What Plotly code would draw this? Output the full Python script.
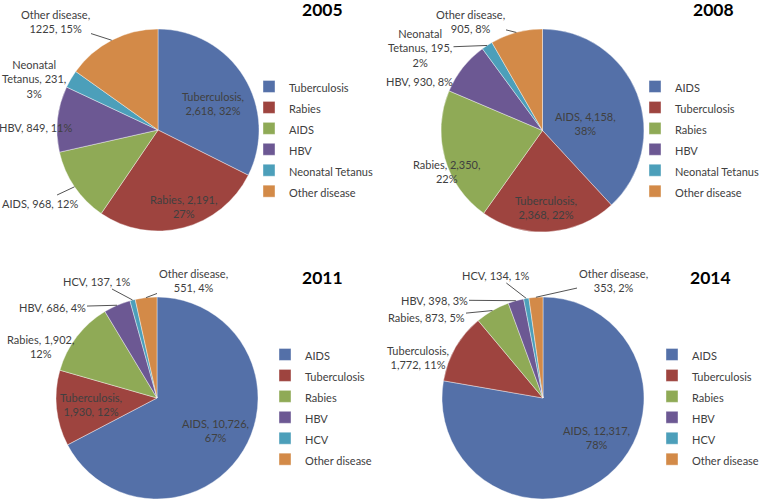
import math
import plotly.graph_objects as go

years = ["2005", "2008", "2011", "2014"]

labels_2005 = ["Tuberculosis", "Rabies", "AIDS", "HBV", "Neonatal Tetanus", "Other disease"]
values_2005 = [2618, 2191, 968, 849, 231, 1225]
pct_2005 = ["32%", "27%", "12%", "11%", "3%", "15%"]

labels_2008 = ["AIDS", "Tuberculosis", "Rabies", "HBV", "Neonatal Tetanus", "Other disease"]
values_2008 = [4158, 2368, 2350, 930, 195, 905]
pct_2008 = ["38%", "22%", "22%", "8%", "2%", "8%"]

labels_2011 = ["AIDS", "Tuberculosis", "Rabies", "HBV", "HCV", "Other disease"]
values_2011 = [10726, 1930, 1902, 686, 137, 551]
pct_2011 = ["67%", "12%", "12%", "4%", "1%", "4%"]

labels_2014 = ["AIDS", "Tuberculosis", "Rabies", "HBV", "HCV", "Other disease"]
values_2014 = [12317, 1772, 873, 398, 134, 353]
pct_2014 = ["78%", "11%", "5%", "3%", "1%", "2%"]

# data-label texts as wrapped in the reference
label_text_2005 = ["Tuberculosis,<br>2,618, 32%", "Rabies, 2,191,<br>27%", "AIDS, 968, 12%",
                   "HBV, 849, 11%", "Neonatal<br>Tetanus, 231,<br>3%", "Other disease,<br>1225, 15%"]
label_text_2008 = ["AIDS, 4,158,<br>38%", "Tuberculosis,<br>2,368, 22%", "Rabies, 2,350,<br>22%",
                   "HBV, 930, 8%", "Neonatal<br>Tetanus, 195,<br>2%", "Other disease,<br>905, 8%"]
label_text_2011 = ["AIDS, 10,726,<br>67%", "Tuberculosis,<br>1,930, 12%", "Rabies, 1,902,<br>12%",
                   "HBV, 686, 4%", "HCV, 137, 1%", "Other disease,<br>551, 4%"]
label_text_2014 = ["AIDS, 12,317,<br>78%", "Tuberculosis,<br>1,772, 11%", "Rabies, 873, 5%",
                   "HBV, 398, 3%", "HCV, 134, 1%", "Other disease,<br>353, 2%"]

colors = ["#5470A8", "#9E443F", "#8FAA56", "#6C5893", "#4C9FBA", "#D38A48"]

datasets = [
    (labels_2005, values_2005, label_text_2005),
    (labels_2008, values_2008, label_text_2008),
    (labels_2011, values_2011, label_text_2011),
    (labels_2014, values_2014, label_text_2014),
]

W, H = 762, 501
# pie center and radius (px)
pies = [(158, 130, 101), (542.5, 130.5, 101.5), (157, 398, 101), (543, 398, 101)]
# label text centres (px) and whether a leader line is drawn
label_layout = [
    [(213, 103, False), (183, 206, False), (40, 203, True), (36, 127, False), (34, 79, False), (55, 22, True)],
    [(585, 124, False), (546, 207, False), (446, 171, False), (419, 81, False), (420, 48, True), (470, 21, True)],
    [(215, 430, False), (91, 404, False), (40, 346, False), (52, 307, True), (97, 281, True), (193, 280, True)],
    [(596, 437, False), (418, 357, False), (426, 317, True), (434, 300, True), (496, 275, True), (613, 280, True)],
]
legend_pos = [(249, 71), (635, 71), (265, 339), (652, 339)]
title_pos = [(322, 9), (713, 9), (322, 277), (710, 277)]

font_family = "Lato, sans-serif"
text_color = "#404040"
legend_text_px = 11

fig = go.Figure()
legend_names = ["legend", "legend2", "legend3", "legend4"]
annotations = []
for i, (labs, vals, texts) in enumerate(datasets):
    cx, cy, r = pies[i]
    # a per-pie style string keeps each pie's legend entries separate
    style = f"font-size:{legend_text_px}px" + ";" * (i + 1)
    uniq_labels = [f'<span style="{style}">{lab}</span>' for lab in labs]
    fig.add_trace(go.Pie(
        labels=uniq_labels,
        values=vals,
        textinfo="none",
        sort=False,
        direction="clockwise",
        rotation=0,
        automargin=False,
        marker=dict(colors=colors, line=dict(color="white", width=0.4)),
        domain=dict(x=[(cx - r) / W, (cx + r) / W], y=[1 - (cy + r) / H, 1 - (cy - r) / H]),
        legend=legend_names[i],
        customdata=labs,
        hovertemplate="%{customdata}: %{value:,} (%{percent})<extra></extra>",
    ))
    total = float(sum(vals))
    cum = 0.0
    for j, v in enumerate(vals):
        mid = 2 * math.pi * (cum + v / 2.0) / total
        cum += v
        tx = cx + r * math.sin(mid)
        ty = cy - r * math.cos(mid)
        lx, ly, line = label_layout[i][j]
        annotations.append(dict(
            text=texts[j], x=tx / W, y=1 - ty / H, xref="paper", yref="paper",
            ax=lx - tx, ay=ly - ty, axref="pixel", ayref="pixel",
            showarrow=True, arrowhead=0, arrowwidth=0.9, standoff=0,
            arrowcolor="#404040" if line else "rgba(0,0,0,0)",
            align="center", xanchor="center", yanchor="middle",
            font=dict(family=font_family, size=11, color=text_color),
        ))

layout_legends = {}
for i, name in enumerate(legend_names):
    lx, ly = legend_pos[i]
    layout_legends[name] = dict(
        x=lx / W, y=1 - ly / H, xanchor="left", yanchor="top",
        xref="paper", yref="paper",
        font=dict(family=font_family, size=13.8, color=text_color),
        bgcolor="rgba(0,0,0,0)", itemclick=False, itemdoubleclick=False,
        itemwidth=30,
    )

for i, yr in enumerate(years):
    tx, ty = title_pos[i]
    annotations.append(dict(
        text=f"<b>{yr}</b>", x=tx / W, y=1 - ty / H, xref="paper", yref="paper",
        xanchor="center", yanchor="middle", showarrow=False,
        font=dict(family="Lato, sans-serif", size=17.5, color="black"),
    ))

fig.update_layout(
    width=W, height=H,
    margin=dict(l=0, r=0, t=0, b=0, pad=0, autoexpand=False),
    paper_bgcolor="white",
    plot_bgcolor="white",
    annotations=annotations,
    **layout_legends,
)

fig.write_html("out.html", config={"displayModeBar": False},
               post_script="document.body.style.margin='0px';")
